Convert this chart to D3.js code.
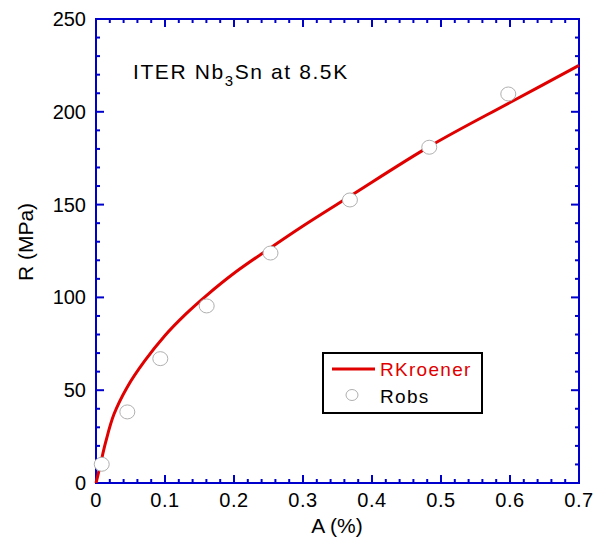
<!DOCTYPE html>
<html>
<head>
<meta charset="utf-8">
<script src="https://cdn.jsdelivr.net/npm/d3@7"></script>
<style>
  body { margin: 0; background: #fff; }
  text { font-family: "Liberation Sans", Arial, sans-serif; }
</style>
</head>
<body>
<div id="canvas"></div>
<script>
// data
var obsA = [0.0083, 0.0454, 0.0932, 0.1604, 0.2529, 0.368, 0.483, 0.5975];
var obsR = [10.1, 38.3, 67.0, 95.4, 123.9, 152.5, 180.9, 209.6];

var fitA = [0, 0.002, 0.007, 0.014, 0.026, 0.045, 0.07, 0.1, 0.13, 0.16, 0.2, 0.25, 0.3, 0.368, 0.484, 0.6, 0.7];
var fitR = [0, 3, 11, 22, 37, 51.5, 65.5, 79.5, 91, 101, 113, 126, 138.5, 154.5, 181.5, 205, 225];

var xTicks = [0, 0.1, 0.2, 0.3, 0.4, 0.5, 0.6, 0.7];
var yTicks = [0, 50, 100, 150, 200, 250];

var w = 602;
var h = 547;
var pLeft = 96, pRight = 579, pTop = 19, pBottom = 483;
var blue = "#0000cc";
var red = "#e00000";

var svg = d3.select("#canvas").append("svg").attr("width", w).attr("height", h);

var x = d3.scaleLinear().domain([0, 0.7]).range([pLeft, pRight]);
var y = d3.scaleLinear().domain([0, 250]).range([pBottom, pTop]);

// minor ticks every 0.02 / 10
var xMinor = d3.range(0, 0.7001, 0.02);
var yMinor = d3.range(0, 250.01, 10);

function tickLen(v, step) {
  return Math.abs(v / step - Math.round(v / step)) < 1e-6 ? 8 : 4;
}

var g = svg.append("g");

// x ticks, bottom and top, pointing inward
xMinor.forEach(function(v) {
  var len = tickLen(v, 0.1);
  g.append("line").attr("x1", x(v)).attr("x2", x(v))
    .attr("y1", pBottom).attr("y2", pBottom - len)
    .attr("stroke", blue).attr("stroke-width", 2);
  g.append("line").attr("x1", x(v)).attr("x2", x(v))
    .attr("y1", pTop).attr("y2", pTop + len)
    .attr("stroke", blue).attr("stroke-width", 2);
});

yMinor.forEach(function(v) {
  var len = tickLen(v, 50);
  g.append("line").attr("y1", y(v)).attr("y2", y(v))
    .attr("x1", pLeft).attr("x2", pLeft + len)
    .attr("stroke", blue).attr("stroke-width", 2);
  g.append("line").attr("y1", y(v)).attr("y2", y(v))
    .attr("x1", pRight).attr("x2", pRight - len)
    .attr("stroke", blue).attr("stroke-width", 2);
});

// frame
g.append("rect").attr("x", pLeft).attr("y", pTop)
  .attr("width", pRight - pLeft).attr("height", pBottom - pTop)
  .attr("fill", "none").attr("stroke", blue).attr("stroke-width", 2);

// tick labels
svg.selectAll(".xl").data(xTicks).enter().append("text")
  .attr("x", function(d) { return x(d); })
  .attr("y", 507)
  .attr("text-anchor", "middle")
  .attr("font-size", 20)
  .attr("letter-spacing", 0.5)
  .text(function(d) { return d === 0 ? "0" : d3.format(".1f")(d); });

svg.selectAll(".yl").data(yTicks).enter().append("text")
  .attr("x", 86)
  .attr("y", function(d) { return y(d) + 7; })
  .attr("text-anchor", "end")
  .attr("font-size", 20)
  .text(function(d) { return d; });

// axis titles
svg.append("text").attr("x", 337).attr("y", 533)
  .attr("text-anchor", "middle").attr("font-size", 21)
  .text("A (%)");

svg.append("text")
  .attr("transform", "translate(33,242) rotate(-90)")
  .attr("text-anchor", "middle").attr("font-size", 21)
  .text("R (MPa)");

// annotation
var ann = svg.append("text").attr("x", 133).attr("y", 79)
  .attr("font-size", 21).attr("letter-spacing", 1.6);
ann.append("tspan").text("ITER Nb");
ann.append("tspan").attr("dy", 7).attr("font-size", 15).text("3");
ann.append("tspan").attr("dy", -7).text("Sn at 8.5K");

// fitted curve
var fitData = fitA.map(function(a, i) { return [a, fitR[i]]; });
var line = d3.line()
  .x(function(d) { return x(d[0]); })
  .y(function(d) { return y(d[1]); })
  .curve(d3.curveCatmullRom.alpha(0.5));

svg.append("path").datum(fitData)
  .attr("d", line)
  .attr("fill", "none")
  .attr("stroke", red)
  .attr("stroke-width", 3);

// observed points
var obsData = obsA.map(function(a, i) { return [a, obsR[i]]; });
svg.selectAll(".pt").data(obsData).enter().append("ellipse")
  .attr("cx", function(d) { return x(d[0]); })
  .attr("cy", function(d) { return y(d[1]); })
  .attr("rx", 7.5).attr("ry", 7)
  .attr("fill", "#fff")
  .attr("stroke", "#b0b0b0")
  .attr("stroke-width", 1);

// legend
var lg = svg.append("g");
lg.append("rect").attr("x", 323).attr("y", 353).attr("width", 159).attr("height", 60)
  .attr("fill", "#fff").attr("stroke", "#000").attr("stroke-width", 2);
lg.append("line").attr("x1", 332).attr("x2", 375).attr("y1", 369).attr("y2", 369)
  .attr("stroke", red).attr("stroke-width", 3);
lg.append("text").attr("x", 380).attr("y", 376).attr("font-size", 19)
  .attr("letter-spacing", 1.3).attr("fill", red).text("RKroener");
lg.append("ellipse").attr("cx", 352).attr("cy", 395).attr("rx", 6).attr("ry", 5.5)
  .attr("fill", "#fff").attr("stroke", "#b0b0b0").attr("stroke-width", 1);
lg.append("text").attr("x", 380).attr("y", 403).attr("font-size", 19)
  .attr("letter-spacing", 1.3).attr("fill", "#000").text("Robs");
</script>
</body>
</html>
